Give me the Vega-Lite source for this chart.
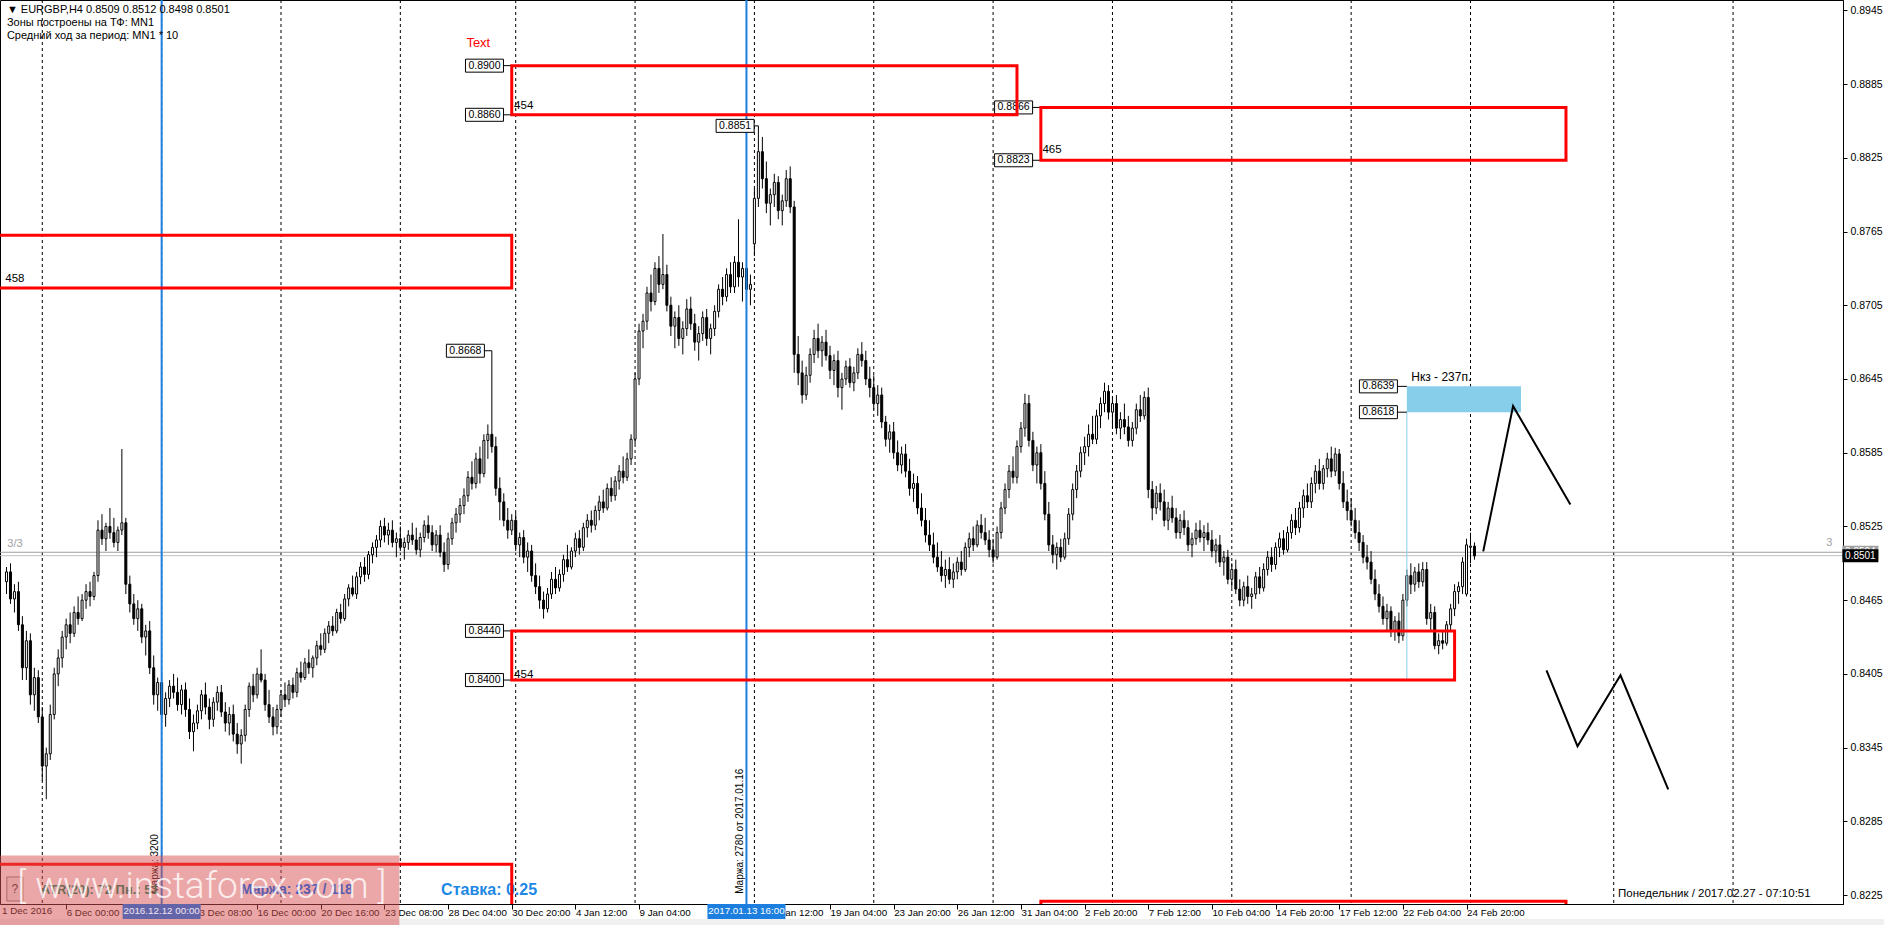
{
"$schema": "https://vega.github.io/schema/vega-lite/v6.json",
"width": 1843, "height": 904,
"autosize": {"type": "none"},
"padding": {"left": 0, "top": 0, "right": 41, "bottom": 21},
"background": "white",
"config": {"view": {"stroke": "#000000", "strokeWidth": 1}, "font": "Liberation Sans"},
"datasets": {
"candles": [
{"i":0,"o":0.8480,"h":0.8492,"l":0.8470,"c":0.8488},
{"i":1,"o":0.8488,"h":0.8495,"l":0.8462,"c":0.8466},
{"i":2,"o":0.8466,"h":0.8478,"l":0.8455,"c":0.8472},
{"i":3,"o":0.8472,"h":0.8480,"l":0.8440,"c":0.8445},
{"i":4,"o":0.8445,"h":0.8452,"l":0.8400,"c":0.8410},
{"i":5,"o":0.8410,"h":0.8440,"l":0.8400,"c":0.8432},
{"i":6,"o":0.8432,"h":0.8438,"l":0.8380,"c":0.8388},
{"i":7,"o":0.8388,"h":0.8410,"l":0.8375,"c":0.8402},
{"i":8,"o":0.8402,"h":0.8408,"l":0.8365,"c":0.8370},
{"i":9,"o":0.8370,"h":0.8378,"l":0.8318,"c":0.8330},
{"i":10,"o":0.8330,"h":0.8345,"l":0.8303,"c":0.8340},
{"i":11,"o":0.8340,"h":0.8380,"l":0.8335,"c":0.8372},
{"i":12,"o":0.8372,"h":0.8410,"l":0.8368,"c":0.8405},
{"i":13,"o":0.8405,"h":0.8425,"l":0.8395,"c":0.8418},
{"i":14,"o":0.8418,"h":0.8440,"l":0.8410,"c":0.8435},
{"i":15,"o":0.8435,"h":0.8450,"l":0.8425,"c":0.8445},
{"i":16,"o":0.8445,"h":0.8455,"l":0.8430,"c":0.8438},
{"i":17,"o":0.8438,"h":0.8460,"l":0.8435,"c":0.8455},
{"i":18,"o":0.8455,"h":0.8468,"l":0.8445,"c":0.8450},
{"i":19,"o":0.8450,"h":0.8470,"l":0.8448,"c":0.8465},
{"i":20,"o":0.8465,"h":0.8478,"l":0.8458,"c":0.8472},
{"i":21,"o":0.8472,"h":0.8480,"l":0.8460,"c":0.8468},
{"i":22,"o":0.8468,"h":0.8488,"l":0.8465,"c":0.8485},
{"i":23,"o":0.8485,"h":0.8530,"l":0.8480,"c":0.8522},
{"i":24,"o":0.8522,"h":0.8535,"l":0.8510,"c":0.8515},
{"i":25,"o":0.8515,"h":0.8528,"l":0.8505,"c":0.8525},
{"i":26,"o":0.8525,"h":0.8540,"l":0.8515,"c":0.8520},
{"i":27,"o":0.8520,"h":0.8532,"l":0.8508,"c":0.8512},
{"i":28,"o":0.8512,"h":0.8525,"l":0.8505,"c":0.8522},
{"i":29,"o":0.8522,"h":0.8588,"l":0.8518,"c":0.8528},
{"i":30,"o":0.8528,"h":0.8532,"l":0.8470,"c":0.8478},
{"i":31,"o":0.8478,"h":0.8485,"l":0.8455,"c":0.8462},
{"i":32,"o":0.8462,"h":0.8470,"l":0.8445,"c":0.8450},
{"i":33,"o":0.8450,"h":0.8465,"l":0.8440,"c":0.8458},
{"i":34,"o":0.8458,"h":0.8462,"l":0.8430,"c":0.8435},
{"i":35,"o":0.8435,"h":0.8445,"l":0.8420,"c":0.8440},
{"i":36,"o":0.8440,"h":0.8448,"l":0.8405,"c":0.8410},
{"i":37,"o":0.8410,"h":0.8420,"l":0.8380,"c":0.8388},
{"i":38,"o":0.8388,"h":0.8402,"l":0.8375,"c":0.8398},
{"i":39,"o":0.8398,"h":0.8405,"l":0.8365,"c":0.8372},
{"i":40,"o":0.8372,"h":0.8390,"l":0.8362,"c":0.8385},
{"i":41,"o":0.8385,"h":0.8400,"l":0.8378,"c":0.8395},
{"i":42,"o":0.8395,"h":0.8405,"l":0.8385,"c":0.8390},
{"i":43,"o":0.8390,"h":0.8402,"l":0.8375,"c":0.8380},
{"i":44,"o":0.8380,"h":0.8396,"l":0.8372,"c":0.8392},
{"i":45,"o":0.8392,"h":0.8398,"l":0.8370,"c":0.8376},
{"i":46,"o":0.8376,"h":0.8385,"l":0.8352,"c":0.8358},
{"i":47,"o":0.8358,"h":0.8372,"l":0.8342,"c":0.8365},
{"i":48,"o":0.8365,"h":0.8380,"l":0.8360,"c":0.8375},
{"i":49,"o":0.8375,"h":0.8392,"l":0.8368,"c":0.8388},
{"i":50,"o":0.8388,"h":0.8398,"l":0.8372,"c":0.8378},
{"i":51,"o":0.8378,"h":0.8385,"l":0.8360,"c":0.8368},
{"i":52,"o":0.8368,"h":0.8386,"l":0.8362,"c":0.8382},
{"i":53,"o":0.8382,"h":0.8395,"l":0.8375,"c":0.8390},
{"i":54,"o":0.8390,"h":0.8396,"l":0.8370,"c":0.8374},
{"i":55,"o":0.8374,"h":0.8382,"l":0.8358,"c":0.8365},
{"i":56,"o":0.8365,"h":0.8378,"l":0.8355,"c":0.8372},
{"i":57,"o":0.8372,"h":0.8380,"l":0.8350,"c":0.8356},
{"i":58,"o":0.8356,"h":0.8365,"l":0.8340,"c":0.8348},
{"i":59,"o":0.8348,"h":0.8360,"l":0.8332,"c":0.8355},
{"i":60,"o":0.8355,"h":0.8380,"l":0.8350,"c":0.8376},
{"i":61,"o":0.8376,"h":0.8398,"l":0.8370,"c":0.8395},
{"i":62,"o":0.8395,"h":0.8405,"l":0.8382,"c":0.8388},
{"i":63,"o":0.8388,"h":0.8410,"l":0.8385,"c":0.8405},
{"i":64,"o":0.8405,"h":0.8425,"l":0.8398,"c":0.8400},
{"i":65,"o":0.8400,"h":0.8405,"l":0.8375,"c":0.8380},
{"i":66,"o":0.8380,"h":0.8392,"l":0.8365,"c":0.8370},
{"i":67,"o":0.8370,"h":0.8378,"l":0.8355,"c":0.8362},
{"i":68,"o":0.8362,"h":0.8380,"l":0.8356,"c":0.8376},
{"i":69,"o":0.8376,"h":0.8392,"l":0.8370,"c":0.8388},
{"i":70,"o":0.8388,"h":0.8398,"l":0.8378,"c":0.8384},
{"i":71,"o":0.8384,"h":0.8400,"l":0.8380,"c":0.8396},
{"i":72,"o":0.8396,"h":0.8402,"l":0.8385,"c":0.8390},
{"i":73,"o":0.8390,"h":0.8410,"l":0.8386,"c":0.8406},
{"i":74,"o":0.8406,"h":0.8415,"l":0.8398,"c":0.8402},
{"i":75,"o":0.8402,"h":0.8418,"l":0.8400,"c":0.8414},
{"i":76,"o":0.8414,"h":0.8425,"l":0.8405,"c":0.8410},
{"i":77,"o":0.8410,"h":0.8420,"l":0.8402,"c":0.8418},
{"i":78,"o":0.8418,"h":0.8432,"l":0.8412,"c":0.8428},
{"i":79,"o":0.8428,"h":0.8438,"l":0.8420,"c":0.8425},
{"i":80,"o":0.8425,"h":0.8442,"l":0.8422,"c":0.8438},
{"i":81,"o":0.8438,"h":0.8448,"l":0.8430,"c":0.8444},
{"i":82,"o":0.8444,"h":0.8452,"l":0.8436,"c":0.8440},
{"i":83,"o":0.8440,"h":0.8458,"l":0.8438,"c":0.8455},
{"i":84,"o":0.8455,"h":0.8462,"l":0.8446,"c":0.8450},
{"i":85,"o":0.8450,"h":0.8470,"l":0.8448,"c":0.8466},
{"i":86,"o":0.8466,"h":0.8478,"l":0.8460,"c":0.8475},
{"i":87,"o":0.8475,"h":0.8485,"l":0.8468,"c":0.8470},
{"i":88,"o":0.8470,"h":0.8488,"l":0.8466,"c":0.8484},
{"i":89,"o":0.8484,"h":0.8496,"l":0.8478,"c":0.8492},
{"i":90,"o":0.8492,"h":0.8500,"l":0.8480,"c":0.8486},
{"i":91,"o":0.8486,"h":0.8505,"l":0.8482,"c":0.8502},
{"i":92,"o":0.8502,"h":0.8512,"l":0.8495,"c":0.8508},
{"i":93,"o":0.8508,"h":0.8518,"l":0.8500,"c":0.8514},
{"i":94,"o":0.8514,"h":0.8530,"l":0.8508,"c":0.8525},
{"i":95,"o":0.8525,"h":0.8532,"l":0.8512,"c":0.8518},
{"i":96,"o":0.8518,"h":0.8528,"l":0.8510,"c":0.8522},
{"i":97,"o":0.8522,"h":0.8530,"l":0.8508,"c":0.8512},
{"i":98,"o":0.8512,"h":0.8520,"l":0.8500,"c":0.8515},
{"i":99,"o":0.8515,"h":0.8525,"l":0.8505,"c":0.8508},
{"i":100,"o":0.8508,"h":0.8516,"l":0.8498,"c":0.8512},
{"i":101,"o":0.8512,"h":0.8522,"l":0.8506,"c":0.8518},
{"i":102,"o":0.8518,"h":0.8528,"l":0.8510,"c":0.8514},
{"i":103,"o":0.8514,"h":0.8524,"l":0.8502,"c":0.8506},
{"i":104,"o":0.8506,"h":0.8520,"l":0.8500,"c":0.8516},
{"i":105,"o":0.8516,"h":0.8530,"l":0.8512,"c":0.8526},
{"i":106,"o":0.8526,"h":0.8534,"l":0.8515,"c":0.8520},
{"i":107,"o":0.8520,"h":0.8526,"l":0.8505,"c":0.8510},
{"i":108,"o":0.8510,"h":0.8522,"l":0.8504,"c":0.8518},
{"i":109,"o":0.8518,"h":0.8526,"l":0.8500,"c":0.8504},
{"i":110,"o":0.8504,"h":0.8512,"l":0.8488,"c":0.8494},
{"i":111,"o":0.8494,"h":0.8520,"l":0.8490,"c":0.8515},
{"i":112,"o":0.8515,"h":0.8532,"l":0.8510,"c":0.8528},
{"i":113,"o":0.8528,"h":0.8540,"l":0.8520,"c":0.8535},
{"i":114,"o":0.8535,"h":0.8548,"l":0.8528,"c":0.8542},
{"i":115,"o":0.8542,"h":0.8556,"l":0.8535,"c":0.8550},
{"i":116,"o":0.8550,"h":0.8570,"l":0.8545,"c":0.8565},
{"i":117,"o":0.8565,"h":0.8578,"l":0.8555,"c":0.8560},
{"i":118,"o":0.8560,"h":0.8585,"l":0.8556,"c":0.8580},
{"i":119,"o":0.8580,"h":0.8590,"l":0.8560,"c":0.8568},
{"i":120,"o":0.8568,"h":0.8600,"l":0.8565,"c":0.8595},
{"i":121,"o":0.8595,"h":0.8608,"l":0.8580,"c":0.8600},
{"i":122,"o":0.8600,"h":0.8668,"l":0.8585,"c":0.8590},
{"i":123,"o":0.8590,"h":0.8598,"l":0.8550,"c":0.8556},
{"i":124,"o":0.8556,"h":0.8565,"l":0.8530,"c":0.8545},
{"i":125,"o":0.8545,"h":0.8552,"l":0.8525,"c":0.8530},
{"i":126,"o":0.8530,"h":0.8540,"l":0.8515,"c":0.8522},
{"i":127,"o":0.8522,"h":0.8535,"l":0.8518,"c":0.8530},
{"i":128,"o":0.8530,"h":0.8536,"l":0.8505,"c":0.8510},
{"i":129,"o":0.8510,"h":0.8520,"l":0.8500,"c":0.8516},
{"i":130,"o":0.8516,"h":0.8522,"l":0.8495,"c":0.8500},
{"i":131,"o":0.8500,"h":0.8512,"l":0.8488,"c":0.8505},
{"i":132,"o":0.8505,"h":0.8510,"l":0.8480,"c":0.8485},
{"i":133,"o":0.8485,"h":0.8495,"l":0.8470,"c":0.8476},
{"i":134,"o":0.8476,"h":0.8485,"l":0.8458,"c":0.8465},
{"i":135,"o":0.8465,"h":0.8472,"l":0.8450,"c":0.8458},
{"i":136,"o":0.8458,"h":0.8475,"l":0.8455,"c":0.8470},
{"i":137,"o":0.8470,"h":0.8488,"l":0.8466,"c":0.8482},
{"i":138,"o":0.8482,"h":0.8492,"l":0.8470,"c":0.8475},
{"i":139,"o":0.8475,"h":0.8490,"l":0.8472,"c":0.8486},
{"i":140,"o":0.8486,"h":0.8502,"l":0.8480,"c":0.8498},
{"i":141,"o":0.8498,"h":0.8510,"l":0.8488,"c":0.8492},
{"i":142,"o":0.8492,"h":0.8508,"l":0.8490,"c":0.8505},
{"i":143,"o":0.8505,"h":0.8520,"l":0.8500,"c":0.8515},
{"i":144,"o":0.8515,"h":0.8522,"l":0.8502,"c":0.8508},
{"i":145,"o":0.8508,"h":0.8528,"l":0.8505,"c":0.8524},
{"i":146,"o":0.8524,"h":0.8535,"l":0.8516,"c":0.8530},
{"i":147,"o":0.8530,"h":0.8538,"l":0.8520,"c":0.8526},
{"i":148,"o":0.8526,"h":0.8542,"l":0.8522,"c":0.8538},
{"i":149,"o":0.8538,"h":0.8550,"l":0.8530,"c":0.8545},
{"i":150,"o":0.8545,"h":0.8555,"l":0.8536,"c":0.8540},
{"i":151,"o":0.8540,"h":0.8560,"l":0.8538,"c":0.8556},
{"i":152,"o":0.8556,"h":0.8565,"l":0.8545,"c":0.8550},
{"i":153,"o":0.8550,"h":0.8566,"l":0.8546,"c":0.8562},
{"i":154,"o":0.8562,"h":0.8575,"l":0.8555,"c":0.8570},
{"i":155,"o":0.8570,"h":0.8582,"l":0.8560,"c":0.8565},
{"i":156,"o":0.8565,"h":0.8585,"l":0.8562,"c":0.8580},
{"i":157,"o":0.8580,"h":0.8600,"l":0.8575,"c":0.8596},
{"i":158,"o":0.8596,"h":0.8650,"l":0.8592,"c":0.8645},
{"i":159,"o":0.8645,"h":0.8690,"l":0.8640,"c":0.8684},
{"i":160,"o":0.8684,"h":0.8698,"l":0.8670,"c":0.8692},
{"i":161,"o":0.8692,"h":0.8720,"l":0.8685,"c":0.8715},
{"i":162,"o":0.8715,"h":0.8730,"l":0.8700,"c":0.8708},
{"i":163,"o":0.8708,"h":0.8740,"l":0.8705,"c":0.8735},
{"i":164,"o":0.8735,"h":0.8745,"l":0.8715,"c":0.8722},
{"i":165,"o":0.8722,"h":0.8763,"l":0.8718,"c":0.8730},
{"i":166,"o":0.8730,"h":0.8738,"l":0.8700,"c":0.8705},
{"i":167,"o":0.8705,"h":0.8712,"l":0.8680,"c":0.8688},
{"i":168,"o":0.8688,"h":0.8700,"l":0.8670,"c":0.8695},
{"i":169,"o":0.8695,"h":0.8705,"l":0.8672,"c":0.8678},
{"i":170,"o":0.8678,"h":0.8692,"l":0.8665,"c":0.8686},
{"i":171,"o":0.8686,"h":0.8710,"l":0.8680,"c":0.8702},
{"i":172,"o":0.8702,"h":0.8712,"l":0.8685,"c":0.8690},
{"i":173,"o":0.8690,"h":0.8698,"l":0.8668,"c":0.8675},
{"i":174,"o":0.8675,"h":0.8688,"l":0.8660,"c":0.8682},
{"i":175,"o":0.8682,"h":0.8700,"l":0.8676,"c":0.8695},
{"i":176,"o":0.8695,"h":0.8702,"l":0.8672,"c":0.8678},
{"i":177,"o":0.8678,"h":0.8690,"l":0.8665,"c":0.8686},
{"i":178,"o":0.8686,"h":0.8705,"l":0.8680,"c":0.8700},
{"i":179,"o":0.8700,"h":0.8722,"l":0.8695,"c":0.8718},
{"i":180,"o":0.8718,"h":0.8728,"l":0.8705,"c":0.8712},
{"i":181,"o":0.8712,"h":0.8735,"l":0.8708,"c":0.8730},
{"i":182,"o":0.8730,"h":0.8740,"l":0.8715,"c":0.8720},
{"i":183,"o":0.8720,"h":0.8745,"l":0.8715,"c":0.8740},
{"i":184,"o":0.8740,"h":0.8775,"l":0.8720,"c":0.8728},
{"i":185,"o":0.8728,"h":0.8740,"l":0.8708,"c":0.8735},
{"i":186,"o":0.8735,"h":0.8742,"l":0.8712,"c":0.8718},
{"i":187,"o":0.8718,"h":0.8730,"l":0.8705,"c":0.8722},
{"i":188,"o":0.8755,"h":0.8800,"l":0.8745,"c":0.8792},
{"i":189,"o":0.8792,"h":0.8851,"l":0.8785,"c":0.8830},
{"i":190,"o":0.8830,"h":0.8842,"l":0.8800,"c":0.8808},
{"i":191,"o":0.8808,"h":0.8822,"l":0.8780,"c":0.8788},
{"i":192,"o":0.8788,"h":0.8800,"l":0.8770,"c":0.8795},
{"i":193,"o":0.8795,"h":0.8812,"l":0.8785,"c":0.8805},
{"i":194,"o":0.8805,"h":0.8810,"l":0.8775,"c":0.8782},
{"i":195,"o":0.8782,"h":0.8795,"l":0.8770,"c":0.8790},
{"i":196,"o":0.8790,"h":0.8815,"l":0.8785,"c":0.8808},
{"i":197,"o":0.8808,"h":0.8818,"l":0.8780,"c":0.8785},
{"i":198,"o":0.8785,"h":0.8790,"l":0.8650,"c":0.8665},
{"i":199,"o":0.8665,"h":0.8680,"l":0.8640,"c":0.8650},
{"i":200,"o":0.8650,"h":0.8660,"l":0.8625,"c":0.8632},
{"i":201,"o":0.8632,"h":0.8655,"l":0.8628,"c":0.8648},
{"i":202,"o":0.8648,"h":0.8670,"l":0.8642,"c":0.8665},
{"i":203,"o":0.8665,"h":0.8685,"l":0.8658,"c":0.8678},
{"i":204,"o":0.8678,"h":0.8690,"l":0.8662,"c":0.8668},
{"i":205,"o":0.8668,"h":0.8680,"l":0.8655,"c":0.8675},
{"i":206,"o":0.8675,"h":0.8685,"l":0.8660,"c":0.8664},
{"i":207,"o":0.8664,"h":0.8672,"l":0.8645,"c":0.8652},
{"i":208,"o":0.8652,"h":0.8665,"l":0.8640,"c":0.8660},
{"i":209,"o":0.8660,"h":0.8668,"l":0.8630,"c":0.8638},
{"i":210,"o":0.8638,"h":0.8650,"l":0.8620,"c":0.8645},
{"i":211,"o":0.8645,"h":0.8660,"l":0.8640,"c":0.8655},
{"i":212,"o":0.8655,"h":0.8662,"l":0.8638,"c":0.8642},
{"i":213,"o":0.8642,"h":0.8655,"l":0.8635,"c":0.8650},
{"i":214,"o":0.8650,"h":0.8670,"l":0.8645,"c":0.8665},
{"i":215,"o":0.8665,"h":0.8675,"l":0.8655,"c":0.8660},
{"i":216,"o":0.8660,"h":0.8668,"l":0.8640,"c":0.8645},
{"i":217,"o":0.8645,"h":0.8655,"l":0.8630,"c":0.8638},
{"i":218,"o":0.8638,"h":0.8648,"l":0.8620,"c":0.8625},
{"i":219,"o":0.8625,"h":0.8640,"l":0.8615,"c":0.8632},
{"i":220,"o":0.8632,"h":0.8638,"l":0.8605,"c":0.8610},
{"i":221,"o":0.8610,"h":0.8615,"l":0.8590,"c":0.8596},
{"i":222,"o":0.8596,"h":0.8608,"l":0.8585,"c":0.8602},
{"i":223,"o":0.8602,"h":0.8610,"l":0.8580,"c":0.8585},
{"i":224,"o":0.8585,"h":0.8595,"l":0.8570,"c":0.8575},
{"i":225,"o":0.8575,"h":0.8590,"l":0.8568,"c":0.8584},
{"i":226,"o":0.8584,"h":0.8592,"l":0.8565,"c":0.8570},
{"i":227,"o":0.8570,"h":0.8580,"l":0.8550,"c":0.8556},
{"i":228,"o":0.8556,"h":0.8568,"l":0.8545,"c":0.8560},
{"i":229,"o":0.8560,"h":0.8566,"l":0.8535,"c":0.8540},
{"i":230,"o":0.8540,"h":0.8552,"l":0.8525,"c":0.8530},
{"i":231,"o":0.8530,"h":0.8540,"l":0.8512,"c":0.8518},
{"i":232,"o":0.8518,"h":0.8530,"l":0.8505,"c":0.8510},
{"i":233,"o":0.8510,"h":0.8520,"l":0.8495,"c":0.8500},
{"i":234,"o":0.8500,"h":0.8512,"l":0.8488,"c":0.8492},
{"i":235,"o":0.8492,"h":0.8505,"l":0.8480,"c":0.8485},
{"i":236,"o":0.8485,"h":0.8498,"l":0.8475,"c":0.8490},
{"i":237,"o":0.8490,"h":0.8500,"l":0.8478,"c":0.8482},
{"i":238,"o":0.8482,"h":0.8495,"l":0.8475,"c":0.8488},
{"i":239,"o":0.8488,"h":0.8500,"l":0.8482,"c":0.8496},
{"i":240,"o":0.8496,"h":0.8505,"l":0.8485,"c":0.8490},
{"i":241,"o":0.8490,"h":0.8512,"l":0.8488,"c":0.8508},
{"i":242,"o":0.8508,"h":0.8520,"l":0.8500,"c":0.8515},
{"i":243,"o":0.8515,"h":0.8525,"l":0.8505,"c":0.8510},
{"i":244,"o":0.8510,"h":0.8530,"l":0.8508,"c":0.8526},
{"i":245,"o":0.8526,"h":0.8535,"l":0.8515,"c":0.8520},
{"i":246,"o":0.8520,"h":0.8532,"l":0.8510,"c":0.8514},
{"i":247,"o":0.8514,"h":0.8522,"l":0.8500,"c":0.8506},
{"i":248,"o":0.8506,"h":0.8515,"l":0.8495,"c":0.8500},
{"i":249,"o":0.8500,"h":0.8525,"l":0.8498,"c":0.8520},
{"i":250,"o":0.8520,"h":0.8545,"l":0.8515,"c":0.8540},
{"i":251,"o":0.8540,"h":0.8560,"l":0.8535,"c":0.8555},
{"i":252,"o":0.8555,"h":0.8575,"l":0.8548,"c":0.8570},
{"i":253,"o":0.8570,"h":0.8582,"l":0.8560,"c":0.8565},
{"i":254,"o":0.8565,"h":0.8595,"l":0.8560,"c":0.8590},
{"i":255,"o":0.8590,"h":0.8610,"l":0.8585,"c":0.8605},
{"i":256,"o":0.8605,"h":0.8633,"l":0.8598,"c":0.8625},
{"i":257,"o":0.8625,"h":0.8632,"l":0.8590,"c":0.8595},
{"i":258,"o":0.8595,"h":0.8602,"l":0.8570,"c":0.8575},
{"i":259,"o":0.8575,"h":0.8590,"l":0.8560,"c":0.8585},
{"i":260,"o":0.8585,"h":0.8592,"l":0.8555,"c":0.8560},
{"i":261,"o":0.8560,"h":0.8570,"l":0.8530,"c":0.8535},
{"i":262,"o":0.8535,"h":0.8545,"l":0.8505,"c":0.8510},
{"i":263,"o":0.8510,"h":0.8518,"l":0.8495,"c":0.8502},
{"i":264,"o":0.8502,"h":0.8512,"l":0.8490,"c":0.8508},
{"i":265,"o":0.8508,"h":0.8515,"l":0.8496,"c":0.8500},
{"i":266,"o":0.8500,"h":0.8520,"l":0.8498,"c":0.8515},
{"i":267,"o":0.8515,"h":0.8540,"l":0.8510,"c":0.8535},
{"i":268,"o":0.8535,"h":0.8560,"l":0.8530,"c":0.8555},
{"i":269,"o":0.8555,"h":0.8575,"l":0.8548,"c":0.8570},
{"i":270,"o":0.8570,"h":0.8590,"l":0.8565,"c":0.8585},
{"i":271,"o":0.8585,"h":0.8598,"l":0.8575,"c":0.8590},
{"i":272,"o":0.8590,"h":0.8608,"l":0.8582,"c":0.8600},
{"i":273,"o":0.8600,"h":0.8615,"l":0.8592,"c":0.8596},
{"i":274,"o":0.8596,"h":0.8620,"l":0.8592,"c":0.8615},
{"i":275,"o":0.8615,"h":0.8630,"l":0.8605,"c":0.8625},
{"i":276,"o":0.8625,"h":0.8642,"l":0.8618,"c":0.8635},
{"i":277,"o":0.8635,"h":0.8640,"l":0.8612,"c":0.8618},
{"i":278,"o":0.8618,"h":0.8630,"l":0.8605,"c":0.8625},
{"i":279,"o":0.8625,"h":0.8632,"l":0.8600,"c":0.8605},
{"i":280,"o":0.8605,"h":0.8618,"l":0.8596,"c":0.8612},
{"i":281,"o":0.8612,"h":0.8625,"l":0.8600,"c":0.8606},
{"i":282,"o":0.8606,"h":0.8615,"l":0.8590,"c":0.8595},
{"i":283,"o":0.8595,"h":0.8610,"l":0.8590,"c":0.8605},
{"i":284,"o":0.8605,"h":0.8625,"l":0.8600,"c":0.8620},
{"i":285,"o":0.8620,"h":0.8632,"l":0.8610,"c":0.8615},
{"i":286,"o":0.8615,"h":0.8635,"l":0.8612,"c":0.8630},
{"i":287,"o":0.8630,"h":0.8638,"l":0.8548,"c":0.8555},
{"i":288,"o":0.8555,"h":0.8562,"l":0.8530,"c":0.8540},
{"i":289,"o":0.8540,"h":0.8558,"l":0.8535,"c":0.8552},
{"i":290,"o":0.8552,"h":0.8560,"l":0.8538,"c":0.8545},
{"i":291,"o":0.8545,"h":0.8555,"l":0.8525,"c":0.8530},
{"i":292,"o":0.8530,"h":0.8545,"l":0.8522,"c":0.8540},
{"i":293,"o":0.8540,"h":0.8550,"l":0.8528,"c":0.8532},
{"i":294,"o":0.8532,"h":0.8540,"l":0.8515,"c":0.8520},
{"i":295,"o":0.8520,"h":0.8535,"l":0.8515,"c":0.8530},
{"i":296,"o":0.8530,"h":0.8538,"l":0.8518,"c":0.8524},
{"i":297,"o":0.8524,"h":0.8530,"l":0.8505,"c":0.8510},
{"i":298,"o":0.8510,"h":0.8520,"l":0.8500,"c":0.8515},
{"i":299,"o":0.8515,"h":0.8528,"l":0.8510,"c":0.8522},
{"i":300,"o":0.8522,"h":0.8530,"l":0.8512,"c":0.8516},
{"i":301,"o":0.8516,"h":0.8526,"l":0.8505,"c":0.8520},
{"i":302,"o":0.8520,"h":0.8528,"l":0.8510,"c":0.8514},
{"i":303,"o":0.8514,"h":0.8522,"l":0.8500,"c":0.8505},
{"i":304,"o":0.8505,"h":0.8515,"l":0.8495,"c":0.8510},
{"i":305,"o":0.8510,"h":0.8518,"l":0.8492,"c":0.8496},
{"i":306,"o":0.8496,"h":0.8505,"l":0.8485,"c":0.8500},
{"i":307,"o":0.8500,"h":0.8506,"l":0.8478,"c":0.8482},
{"i":308,"o":0.8482,"h":0.8495,"l":0.8475,"c":0.8490},
{"i":309,"o":0.8490,"h":0.8498,"l":0.8470,"c":0.8474},
{"i":310,"o":0.8474,"h":0.8482,"l":0.8460,"c":0.8465},
{"i":311,"o":0.8465,"h":0.8480,"l":0.8460,"c":0.8476},
{"i":312,"o":0.8476,"h":0.8485,"l":0.8462,"c":0.8468},
{"i":313,"o":0.8468,"h":0.8475,"l":0.8458,"c":0.8470},
{"i":314,"o":0.8470,"h":0.8488,"l":0.8466,"c":0.8484},
{"i":315,"o":0.8484,"h":0.8492,"l":0.8470,"c":0.8475},
{"i":316,"o":0.8475,"h":0.8495,"l":0.8472,"c":0.8490},
{"i":317,"o":0.8490,"h":0.8505,"l":0.8485,"c":0.8500},
{"i":318,"o":0.8500,"h":0.8508,"l":0.8488,"c":0.8494},
{"i":319,"o":0.8494,"h":0.8512,"l":0.8490,"c":0.8508},
{"i":320,"o":0.8508,"h":0.8520,"l":0.8500,"c":0.8515},
{"i":321,"o":0.8515,"h":0.8522,"l":0.8502,"c":0.8506},
{"i":322,"o":0.8506,"h":0.8525,"l":0.8504,"c":0.8520},
{"i":323,"o":0.8520,"h":0.8535,"l":0.8515,"c":0.8530},
{"i":324,"o":0.8530,"h":0.8540,"l":0.8518,"c":0.8524},
{"i":325,"o":0.8524,"h":0.8545,"l":0.8520,"c":0.8540},
{"i":326,"o":0.8540,"h":0.8555,"l":0.8532,"c":0.8550},
{"i":327,"o":0.8550,"h":0.8560,"l":0.8540,"c":0.8545},
{"i":328,"o":0.8545,"h":0.8565,"l":0.8540,"c":0.8560},
{"i":329,"o":0.8560,"h":0.8575,"l":0.8552,"c":0.8570},
{"i":330,"o":0.8570,"h":0.8580,"l":0.8555,"c":0.8560},
{"i":331,"o":0.8560,"h":0.8575,"l":0.8555,"c":0.8572},
{"i":332,"o":0.8572,"h":0.8585,"l":0.8565,"c":0.8580},
{"i":333,"o":0.8580,"h":0.8590,"l":0.8565,"c":0.8570},
{"i":334,"o":0.8570,"h":0.8589,"l":0.8566,"c":0.8584},
{"i":335,"o":0.8584,"h":0.8588,"l":0.8555,"c":0.8560},
{"i":336,"o":0.8560,"h":0.8570,"l":0.8540,"c":0.8545},
{"i":337,"o":0.8545,"h":0.8555,"l":0.8530,"c":0.8538},
{"i":338,"o":0.8538,"h":0.8548,"l":0.8525,"c":0.8530},
{"i":339,"o":0.8530,"h":0.8540,"l":0.8515,"c":0.8520},
{"i":340,"o":0.8520,"h":0.8530,"l":0.8505,"c":0.8512},
{"i":341,"o":0.8512,"h":0.8518,"l":0.8495,"c":0.8500},
{"i":342,"o":0.8500,"h":0.8510,"l":0.8490,"c":0.8496},
{"i":343,"o":0.8496,"h":0.8505,"l":0.8478,"c":0.8482},
{"i":344,"o":0.8482,"h":0.8490,"l":0.8465,"c":0.8470},
{"i":345,"o":0.8470,"h":0.8478,"l":0.8455,"c":0.8460},
{"i":346,"o":0.8460,"h":0.8468,"l":0.8445,"c":0.8450},
{"i":347,"o":0.8450,"h":0.8462,"l":0.8440,"c":0.8456},
{"i":348,"o":0.8456,"h":0.8460,"l":0.8435,"c":0.8440},
{"i":349,"o":0.8440,"h":0.8452,"l":0.8432,"c":0.8448},
{"i":350,"o":0.8448,"h":0.8455,"l":0.8430,"c":0.8436},
{"i":351,"o":0.8436,"h":0.8470,"l":0.8432,"c":0.8465},
{"i":352,"o":0.8465,"h":0.8490,"l":0.8460,"c":0.8485},
{"i":353,"o":0.8485,"h":0.8495,"l":0.8470,"c":0.8478},
{"i":354,"o":0.8478,"h":0.8492,"l":0.8472,"c":0.8488},
{"i":355,"o":0.8488,"h":0.8495,"l":0.8475,"c":0.8480},
{"i":356,"o":0.8480,"h":0.8496,"l":0.8476,"c":0.8490},
{"i":357,"o":0.8490,"h":0.8496,"l":0.8445,"c":0.8450},
{"i":358,"o":0.8450,"h":0.8462,"l":0.8440,"c":0.8455},
{"i":359,"o":0.8455,"h":0.8460,"l":0.8425,"c":0.8428},
{"i":360,"o":0.8428,"h":0.8438,"l":0.8421,"c":0.8432},
{"i":361,"o":0.8432,"h":0.8440,"l":0.8425,"c":0.8430},
{"i":362,"o":0.8430,"h":0.8448,"l":0.8428,"c":0.8445},
{"i":363,"o":0.8445,"h":0.8462,"l":0.8440,"c":0.8458},
{"i":364,"o":0.8458,"h":0.8478,"l":0.8452,"c":0.8472},
{"i":365,"o":0.8472,"h":0.8480,"l":0.8462,"c":0.8476},
{"i":366,"o":0.8476,"h":0.8500,"l":0.8470,"c":0.8496},
{"i":367,"o":0.8470,"h":0.8515,"l":0.8468,"c":0.8510},
{"i":368,"o":0.8508,"h":0.8520,"l":0.8495,"c":0.8509},
{"i":369,"o":0.8509,"h":0.8512,"l":0.8498,"c":0.8501}
],
"grid": [{"i":9},{"i":39},{"i":69},{"i":99},{"i":128},{"i":158},{"i":188},{"i":218},{"i":248},{"i":278},{"i":308},{"i":338},{"i":368},{"i":404},{"i":434}],
"zones": [
{"x1":-5,"x2":127,"p1":0.8762,"p2":0.8719},
{"x1":127,"x2":254,"p1":0.8900,"p2":0.8860},
{"x1":260,"x2":392,"p1":0.8866,"p2":0.8823},
{"x1":127,"x2":364,"p1":0.8440,"p2":0.8400},
{"x1":-5,"x2":127,"p1":0.8250,"p2":0.8150},
{"x1":260,"x2":392,"p1":0.8220,"p2":0.8150}
],
"plabels": [
{"t":"0.8900","xc":120.15,"xe":127,"p":0.8900},
{"t":"0.8860","xc":120.15,"xe":127,"p":0.8860},
{"t":"0.8440","xc":120.15,"xe":127,"p":0.8440},
{"t":"0.8400","xc":120.15,"xe":127,"p":0.8400},
{"t":"0.8866","xc":253.15,"xe":260,"p":0.8866},
{"t":"0.8823","xc":253.15,"xe":260,"p":0.8823},
{"t":"0.8639","xc":344.85,"xe":352,"p":0.8639},
{"t":"0.8618","xc":344.85,"xe":352,"p":0.8618},
{"t":"0.8851","xc":183.15,"xe":189,"p":0.8851},
{"t":"0.8668","xc":115.35,"xe":122,"p":0.8668}
],
"zigzag": [
{"s":"a","k":0,"x":371.2,"p":0.85047},
{"s":"a","k":1,"x":378.7,"p":0.8623},
{"s":"a","k":2,"x":393.1,"p":0.85428},
{"s":"b","k":0,"x":387.1,"p":0.84078},
{"s":"b","k":1,"x":394.9,"p":0.83462},
{"s":"b","k":2,"x":405.7,"p":0.84039},
{"s":"b","k":3,"x":417.7,"p":0.8311}
]
},
"layer": [
{"data": {"name": "grid"}, "mark": {"type": "rule", "color": "#000000", "strokeWidth": 1, "strokeDash": [3, 3]},
 "encoding": {"x": {"field": "i", "type": "quantitative", "title": null,
   "scale": {"domain": [-0.375, 460.375], "nice": false, "zero": false},
   "axis": {"orient": "bottom", "title": null, "grid": false,
     "values": [15,47,63,79,95,111,127,143,159,191,207,223,239,255,271,287,303,319,335,351,367],
     "labelExpr": "['6 Dec 00:00','13 Dec 08:00','16 Dec 00:00','20 Dec 16:00','23 Dec 08:00','28 Dec 04:00','30 Dec 20:00','4 Jan 12:00','9 Jan 04:00','16 Jan 12:00','19 Jan 04:00','23 Jan 20:00','26 Jan 12:00','31 Jan 04:00','2 Feb 20:00','7 Feb 12:00','10 Feb 04:00','14 Feb 20:00','17 Feb 12:00','22 Feb 04:00','24 Feb 20:00'][indexof([15,47,63,79,95,111,127,143,159,191,207,223,239,255,271,287,303,319,335,351,367], datum.value)]",
     "labelAlign": "left", "labelBaseline": "middle", "labelPadding": 3, "labelDx": 0, "tickSize": 5,
     "tickColor": "#000000", "domainColor": "#000000", "labelColor": "#000000",
     "labelFontSize": 9.8, "labelFont": "Liberation Sans", "labelOverlap": false, "labelFlush": false, "labelBound": false}}}},
{"data": {"values": [{"p": 0.8504, "k": "ask"}]}, "mark": {"type": "rule", "color": "#A0A0A0", "strokeWidth": 1},
 "encoding": {"y": {"field": "p", "type": "quantitative", "title": null,
   "scale": {"domain": [0.821775, 0.895343], "nice": false, "zero": false},
   "axis": {"orient": "right", "title": null, "grid": false,
     "values": [0.8225,0.8255,0.8285,0.8315,0.8345,0.8375,0.8405,0.8435,0.8465,0.8495,0.8525,0.8555,0.8585,0.8615,0.8645,0.8675,0.8705,0.8735,0.8765,0.8795,0.8825,0.8855,0.8885,0.8915,0.8945],
     "format": ".4f", "tickSize": 4, "labelPadding": 3, "labelFontSize": 10.5, "labelFont": "Liberation Sans",
     "labelColor": "#000000", "domainColor": "#000000", "tickColor": "#000000", "labelOverlap": false, "labelFlush": false, "labelBound": false}}}},
{"data": {"values": [{"p": 0.85012}]}, "mark": {"type": "rule", "color": "#C0C0C0", "strokeWidth": 1},
 "encoding": {"y": {"field": "p", "type": "quantitative", "title": null}}},
{"data": {"values": [{"x1": -5, "x2": 480, "p1": 0.82055, "p2": 0.8190}]}, "mark": {"type": "rect", "fill": "#F0F0F0"},
 "encoding": {"x": {"field": "x1", "type": "quantitative", "title": null}, "x2": {"field": "x2"}, "y": {"field": "p1", "type": "quantitative", "title": null}, "y2": {"field": "p2"}}},
{"data": {"name": "candles"}, "mark": {"type": "rule", "color": "#000000", "strokeWidth": 1},
 "encoding": {"x": {"field": "i", "type": "quantitative", "title": null}, "y": {"field": "l", "type": "quantitative", "title": null}, "y2": {"field": "h"}}},
{"data": {"name": "candles"}, "mark": {"type": "bar", "size": 2, "stroke": "#000000", "strokeWidth": 1},
 "encoding": {"x": {"field": "i", "type": "quantitative", "title": null}, "y": {"field": "o", "type": "quantitative", "title": null}, "y2": {"field": "c"},
   "fill": {"condition": {"test": "datum.c < datum.o", "value": "#000000"}, "value": "#FFFFFF"}}},
{"data": {"values": [{"x": 352, "p1": 0.8400, "p2": 0.8618}]}, "mark": {"type": "rule", "color": "#87CEEB", "strokeWidth": 1},
 "encoding": {"x": {"field": "x", "type": "quantitative", "title": null}, "y": {"field": "p1", "type": "quantitative", "title": null}, "y2": {"field": "p2"}}},
{"data": {"values": [{"x1": 352, "x2": 380.7, "p1": 0.8639, "p2": 0.8618}]}, "mark": {"type": "rect", "fill": "#87CEEB"},
 "encoding": {"x": {"field": "x1", "type": "quantitative", "title": null}, "x2": {"field": "x2"}, "y": {"field": "p1", "type": "quantitative", "title": null}, "y2": {"field": "p2"}}},
{"data": {"values": [{"i": 39}, {"i": 186}]}, "mark": {"type": "rule", "color": "#1C7FE0", "strokeWidth": 2},
 "encoding": {"x": {"field": "i", "type": "quantitative", "title": null}}},
{"data": {"values": [{"t": "Маржа: 3200", "x": 37.3, "p": 0.8226}, {"t": "Маржа: 2780  от  2017.01.16", "x": 184.3, "p": 0.8226}]},
 "mark": {"type": "text", "angle": 270, "align": "left", "baseline": "middle", "fontSize": 10, "color": "#000000"},
 "encoding": {"x": {"field": "x", "type": "quantitative", "title": null}, "y": {"field": "p", "type": "quantitative", "title": null}, "text": {"field": "t"}}},
{"data": {"name": "plabels"}, "mark": {"type": "rule", "color": "#000000", "strokeWidth": 1},
 "encoding": {"x": {"field": "xc", "type": "quantitative", "title": null}, "x2": {"field": "xe"}, "y": {"field": "p", "type": "quantitative", "title": null}}},
{"data": {"name": "plabels"}, "mark": {"type": "point", "shape": "M-1,-0.342H1V0.342H-1Z", "size": 1444, "filled": true, "fill": "#FFFFFF", "stroke": "#000000", "strokeWidth": 1, "opacity": 1},
 "encoding": {"x": {"field": "xc", "type": "quantitative", "title": null}, "y": {"field": "p", "type": "quantitative", "title": null}}},
{"data": {"name": "plabels"}, "mark": {"type": "text", "align": "center", "baseline": "middle", "fontSize": 10.5, "color": "#000000"},
 "encoding": {"x": {"field": "xc", "type": "quantitative", "title": null}, "y": {"field": "p", "type": "quantitative", "title": null}, "text": {"field": "t"}}},
{"data": {"values": [{"t": "Ставка: 0.25", "x": 109.25, "p": 0.82291}]}, "mark": {"type": "text", "align": "left", "baseline": "middle", "fontSize": 16, "fontWeight": "bold", "color": "#1E88E5"},
 "encoding": {"x": {"field": "x", "type": "quantitative", "title": null}, "y": {"field": "p", "type": "quantitative", "title": null}, "text": {"field": "t"}}},
{"data": {"values": [{"x": 2.1, "p": 0.8230}]}, "mark": {"type": "point", "shape": "M-0.667,-1H0.667V1H-0.667Z", "size": 576, "filled": true, "fill": "#F0F0F0", "stroke": "#808080", "strokeWidth": 1, "opacity": 1},
 "encoding": {"x": {"field": "x", "type": "quantitative", "title": null}, "y": {"field": "p", "type": "quantitative", "title": null}}},
{"data": {"values": [{"t": "?", "x": 2.1, "p": 0.8230}]}, "mark": {"type": "text", "align": "center", "baseline": "middle", "fontSize": 12, "color": "#333333"},
 "encoding": {"x": {"field": "x", "type": "quantitative", "title": null}, "y": {"field": "p", "type": "quantitative", "title": null}, "text": {"field": "t"}}},
{"data": {"name": "zones"}, "mark": {"type": "rect", "fill": "#FFFFFF", "fillOpacity": 0, "stroke": "#FF0000", "strokeWidth": 3, "clip": true},
 "encoding": {"x": {"field": "x1", "type": "quantitative", "title": null}, "x2": {"field": "x2"}, "y": {"field": "p1", "type": "quantitative", "title": null}, "y2": {"field": "p2"}}},
{"data": {"values": [{"t": "454", "x": 127.6, "p": 0.88674}, {"t": "465", "x": 260.4, "p": 0.88312}, {"t": "454", "x": 127.6, "p": 0.8404}, {"t": "458", "x": -0.3, "p": 0.87266}]},
 "mark": {"type": "text", "align": "left", "baseline": "middle", "fontSize": 11.5, "color": "#000000"},
 "encoding": {"x": {"field": "x", "type": "quantitative", "title": null}, "y": {"field": "p", "type": "quantitative", "title": null}, "text": {"field": "t"}}},
{"data": {"values": [{"t": "Нкз - 237п.", "x": 353.1, "p": 0.86469}]}, "mark": {"type": "text", "align": "left", "baseline": "middle", "fontSize": 12, "color": "#000000"},
 "encoding": {"x": {"field": "x", "type": "quantitative", "title": null}, "y": {"field": "p", "type": "quantitative", "title": null}, "text": {"field": "t"}}},
{"data": {"values": [{"t": "Text", "x": 115.6, "p": 0.89182}]}, "mark": {"type": "text", "align": "left", "baseline": "middle", "fontSize": 13, "color": "#FF0000"},
 "encoding": {"x": {"field": "x", "type": "quantitative", "title": null}, "y": {"field": "p", "type": "quantitative", "title": null}, "text": {"field": "t"}}},
{"data": {"name": "zigzag"}, "mark": {"type": "line", "color": "#000000", "strokeWidth": 2},
 "encoding": {"x": {"field": "x", "type": "quantitative", "title": null}, "y": {"field": "p", "type": "quantitative", "title": null}, "detail": {"field": "s"}, "order": {"field": "k"}}},
{"data": {"values": [{"t": "▼ EURGBP,H4  0.8509 0.8512 0.8498 0.8501", "x": 0.1, "p": 0.89456}, {"t": "Зоны построены на ТФ: MN1", "x": 0.1, "p": 0.89349}, {"t": "Средний ход за период: MN1 * 10", "x": 0.1, "p": 0.89241}]},
 "mark": {"type": "text", "align": "left", "baseline": "middle", "fontSize": 11, "color": "#000000"},
 "encoding": {"x": {"field": "x", "type": "quantitative", "title": null}, "y": {"field": "p", "type": "quantitative", "title": null}, "text": {"field": "t"}}},
{"data": {"values": [{"t": "3/3", "x": 0.2, "p": 0.85107}, {"t": "3", "x": 457.4, "p": 0.85115}]},
 "mark": {"type": "text", "align": "left", "baseline": "middle", "fontSize": 11, "color": "#A0A0A0"},
 "encoding": {"x": {"field": "x", "type": "quantitative", "title": null}, "y": {"field": "p", "type": "quantitative", "title": null}, "text": {"field": "t"}}},
{"data": {"values": [{"t": "Понедельник / 2017.02.27 - 07:10:51", "x": 405.1, "p": 0.82259}]},
 "mark": {"type": "text", "align": "left", "baseline": "middle", "fontSize": 11.5, "color": "#000000"},
 "encoding": {"x": {"field": "x", "type": "quantitative", "title": null}, "y": {"field": "p", "type": "quantitative", "title": null}, "text": {"field": "t"}}},
{"data": {"values": [{"t": "1 Dec 2016", "x": -1.1, "p": 0.82117}]},
 "mark": {"type": "text", "align": "left", "baseline": "middle", "fontSize": 9.8, "color": "#000000"},
 "encoding": {"x": {"field": "x", "type": "quantitative", "title": null}, "y": {"field": "p", "type": "quantitative", "title": null}, "text": {"field": "t"}}},
{"data": {"values": [{"t": "2017.01.13 16:00", "x": 186, "p": 0.82117}]},
 "mark": {"type": "point", "shape": "M-1,-0.192H1V0.192H-1Z", "size": 6084, "filled": true, "fill": "#1C7FE0", "strokeWidth": 0, "opacity": 1},
 "encoding": {"x": {"field": "x", "type": "quantitative", "title": null}, "y": {"field": "p", "type": "quantitative", "title": null}}},
{"data": {"values": [{"t": "2017.01.13 16:00", "x": 186, "p": 0.82117}]},
 "mark": {"type": "text", "align": "center", "baseline": "middle", "fontSize": 9.8, "color": "#FFFFFF"},
 "encoding": {"x": {"field": "x", "type": "quantitative", "title": null}, "y": {"field": "p", "type": "quantitative", "title": null}, "text": {"field": "t"}}},
{"data": {"values": [{"t": "0.8504", "x": 466, "p": 0.8504}]},
 "mark": {"type": "point", "shape": "M-1,-0.361H1V0.361H-1Z", "size": 1296, "filled": true, "fill": "#A0A0A0", "strokeWidth": 0, "opacity": 1},
 "encoding": {"x": {"field": "x", "type": "quantitative", "title": null}, "y": {"field": "p", "type": "quantitative", "title": null}}},
{"data": {"values": [{"t": "0.8504", "x": 466, "p": 0.8504}]},
 "mark": {"type": "text", "align": "center", "baseline": "middle", "fontSize": 10, "color": "#FFFFFF"},
 "encoding": {"x": {"field": "x", "type": "quantitative", "title": null}, "y": {"field": "p", "type": "quantitative", "title": null}, "text": {"field": "t"}}},
{"data": {"values": [{"t": "0.8501", "x": 466, "p": 0.85011}]},
 "mark": {"type": "point", "shape": "M-1,-0.361H1V0.361H-1Z", "size": 1296, "filled": true, "fill": "#000000", "strokeWidth": 0, "opacity": 1},
 "encoding": {"x": {"field": "x", "type": "quantitative", "title": null}, "y": {"field": "p", "type": "quantitative", "title": null}}},
{"data": {"values": [{"t": "0.8501", "x": 466, "p": 0.85011}]},
 "mark": {"type": "text", "align": "center", "baseline": "middle", "fontSize": 10, "color": "#FFFFFF"},
 "encoding": {"x": {"field": "x", "type": "quantitative", "title": null}, "y": {"field": "p", "type": "quantitative", "title": null}, "text": {"field": "t"}}},
{"data": {"values": [{"x1": -5, "x2": 98.75, "p1": 0.82572, "p2": 0.8180}]}, "mark": {"type": "rect", "fill": "#D85050", "opacity": 0.5},
 "encoding": {"x": {"field": "x1", "type": "quantitative", "title": null}, "x2": {"field": "x2"}, "y": {"field": "p1", "type": "quantitative", "title": null}, "y2": {"field": "p2"}}},
{"data": {"values": [{"t": "2016.12.12 00:00", "x": 39, "p": 0.82117}]},
 "mark": {"type": "point", "shape": "M-1,-0.192H1V0.192H-1Z", "size": 6084, "filled": true, "fill": "#6464A8", "strokeWidth": 0, "opacity": 1},
 "encoding": {"x": {"field": "x", "type": "quantitative", "title": null}, "y": {"field": "p", "type": "quantitative", "title": null}}},
{"data": {"values": [{"t": "2016.12.12 00:00", "x": 39, "p": 0.82117}]},
 "mark": {"type": "text", "align": "center", "baseline": "middle", "fontSize": 9.8, "color": "#F2E6F0"},
 "encoding": {"x": {"field": "x", "type": "quantitative", "title": null}, "y": {"field": "p", "type": "quantitative", "title": null}, "text": {"field": "t"}}},
{"data": {"values": [{"t": "ATR(20): 72  Пн.: 51", "x": 8.6, "p": 0.82291}]}, "mark": {"type": "text", "align": "left", "baseline": "middle", "fontSize": 13, "fontWeight": "bold", "color": "#6E6A55"},
 "encoding": {"x": {"field": "x", "type": "quantitative", "title": null}, "y": {"field": "p", "type": "quantitative", "title": null}, "text": {"field": "t"}}},
{"data": {"values": [{"t": "Маржа: 237 / 118", "x": 58.9, "p": 0.82291}]}, "mark": {"type": "text", "align": "left", "baseline": "middle", "fontSize": 14, "fontWeight": "bold", "color": "#5B5BAE"},
 "encoding": {"x": {"field": "x", "type": "quantitative", "title": null}, "y": {"field": "p", "type": "quantitative", "title": null}, "text": {"field": "t"}}},
{"data": {"values": [{"t": "[ www.instaforex.com ]", "x": 49.1, "p": 0.82316}]},
 "mark": {"type": "text", "align": "center", "baseline": "middle", "fontSize": 37, "font": "Roboto", "fontWeight": 300, "color": "#FFFFFF", "opacity": 0.8},
 "encoding": {"x": {"field": "x", "type": "quantitative", "title": null}, "y": {"field": "p", "type": "quantitative", "title": null}, "text": {"field": "t"}}}
]
}
